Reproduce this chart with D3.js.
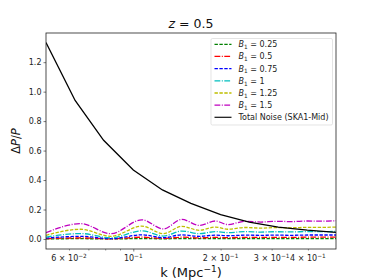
<!DOCTYPE html>
<html><head><meta charset="utf-8">
<script src="https://cdn.jsdelivr.net/npm/d3@7"></script>
<style>
body{margin:0;background:#fff;}
svg{font-family:"DejaVu Sans",sans-serif;}
</style></head>
<body><svg id="c" width="374" height="280"></svg>
<script>
// ---- data ----
const kNoise = [0.05, 0.063, 0.079, 0.1, 0.126, 0.158, 0.2, 0.251, 0.316, 0.398, 0.5];
const noise = [1.333, 0.94, 0.67, 0.468, 0.333, 0.242, 0.165, 0.115, 0.08, 0.06, 0.045];
const kB = [0.05, 0.0659, 0.0837, 0.107, 0.127, 0.147, 0.169, 0.192, 0.2115, 0.2435, 0.275, 0.31, 0.35, 0.4, 0.45, 0.5];
const b025 = [0.0005, 0.002, 0.0003, 0.003, 0.001, 0.003, 0.002, 0.003, 0.002, 0.003, 0.003, 0.003, 0.003, 0.003, 0.003, 0.003];
const b050 = [0.002, 0.007, 0.001, 0.012, 0.004, 0.012, 0.008, 0.011, 0.009, 0.011, 0.011, 0.011, 0.011, 0.012, 0.012, 0.012];
const b075 = [0.006, 0.018, 0.002, 0.028, 0.009, 0.028, 0.018, 0.026, 0.022, 0.026, 0.025, 0.026, 0.025, 0.027, 0.027, 0.027];
const b100 = [0.013, 0.037, 0.008, 0.055, 0.02, 0.054, 0.036, 0.05, 0.043, 0.05, 0.047, 0.049, 0.048, 0.05, 0.05, 0.051];
const b125 = [0.025, 0.066, 0.018, 0.087, 0.036, 0.086, 0.059, 0.081, 0.066, 0.078, 0.074, 0.077, 0.076, 0.079, 0.079, 0.081];
const b150 = [0.043, 0.104, 0.036, 0.13, 0.068, 0.133, 0.092, 0.122, 0.098, 0.12, 0.115, 0.12, 0.118, 0.122, 0.121, 0.124];
const seriesLabels = ["0.25", "0.5", "0.75", "1", "1.25", "1.5"];
const yTicks = [0.0, 0.2, 0.4, 0.6, 0.8, 1.0, 1.2];
const xMajor = [0.1];
const xMinor = [0.06, 0.07, 0.08, 0.09, 0.2, 0.3, 0.4];
const xLabels = [[0.06, "6", "−2"], [0.1, null, "−1"], [0.2, "2", "−1"], [0.3, "3", "−1"], [0.4, "4", "−1"]];

const seriesVals = [b025, b050, b075, b100, b125, b150];
const colors = ["#008000", "#ff0000", "#0000ff", "#00bfbf", "#bfbf00", "#bf00bf"];
const dashed = "3.4,1.5", dashdot = "5.8,1.5,1,1.5";
const styles = [dashed, dashdot, dashed, dashdot, dashed, dashdot];

const svg = d3.select("#c");
const L = 46, R = 336, T = 33, B = 249;
const x = d3.scaleLog().domain([0.05, 0.5]).range([L, R]);
const y = d3.scaleLinear().domain([-0.068, 1.398]).range([B, T]);

svg.append("clipPath").attr("id", "clp").append("rect")
  .attr("x", L).attr("y", T).attr("width", R - L).attr("height", B - T);

const lineSmooth = d3.line().x(d => x(d[0])).y(d => y(d[1])).curve(d3.curveMonotoneX);
const lineLin = d3.line().x(d => x(d[0])).y(d => y(d[1]));

const g = svg.append("g").attr("clip-path", "url(#clp)");
seriesVals.forEach((vals, i) => {
  g.append("path").attr("d", lineSmooth(kB.map((k, j) => [k, vals[j]])))
    .attr("fill", "none").attr("stroke", colors[i]).attr("stroke-width", 1.3)
    .attr("stroke-dasharray", styles[i]);
});
g.append("path").attr("d", lineLin(kNoise.map((k, j) => [k, noise[j]])))
  .attr("fill", "none").attr("stroke", "#000").attr("stroke-width", 1.3);

// axes
const yAxis = d3.axisLeft(y).tickValues(yTicks).tickFormat(d3.format(".1f")).tickSize(2.5).tickPadding(2);
const ya = svg.append("g").attr("transform", `translate(${L},0)`).call(yAxis);
ya.select(".domain").remove();
ya.selectAll("text").attr("font-size", 8).attr("fill", "#222").attr("font-family", "DejaVu Sans");
ya.selectAll("line").attr("stroke", "#222").attr("stroke-width", 0.6);

const xa = svg.append("g").attr("transform", `translate(0,${B})`)
  .call(d3.axisBottom(x).tickValues(xMajor).tickFormat("").tickSize(2.5));
xa.select(".domain").remove();
xa.selectAll("line").attr("stroke", "#222").attr("stroke-width", 0.6);
const xm = svg.append("g").attr("transform", `translate(0,${B})`)
  .call(d3.axisBottom(x).tickValues(xMinor).tickFormat("").tickSize(1.5));
xm.select(".domain").remove();
xm.selectAll("line").attr("stroke", "#222").attr("stroke-width", 0.5);

xLabels.forEach(([v, m, e]) => {
  const t = svg.append("text").attr("x", x(v)).attr("y", 261).attr("text-anchor", "middle")
    .attr("font-size", 8).attr("fill", "#222");
  if (m) t.append("tspan").text(m + " × 10");
  else t.append("tspan").text("10");
  t.append("tspan").attr("dy", -3.5).attr("font-size", 5.8).text(e);
});

// frame
svg.append("rect").attr("x", L).attr("y", T).attr("width", R - L).attr("height", B - T)
  .attr("fill", "none").attr("stroke", "#222").attr("stroke-width", 0.8);

// title
const tt = svg.append("text").attr("x", (L + R) / 2).attr("y", 28).attr("text-anchor", "middle")
  .attr("font-size", 12.5).attr("fill", "#111");
tt.append("tspan").attr("font-style", "italic").text("z");
tt.append("tspan").text(" = 0.5");

// x label
const xl = svg.append("text").attr("x", (L + R) / 2).attr("y", 277).attr("text-anchor", "middle")
  .attr("font-size", 13).attr("fill", "#111");
xl.append("tspan").text("k (Mpc");
xl.append("tspan").attr("dy", -5).attr("font-size", 9).text("−1");
xl.append("tspan").attr("dy", 5).text(")");

// y label
const yl = svg.append("text").attr("transform", `translate(20,${(T + B) / 2}) rotate(-90)`)
  .attr("text-anchor", "middle").attr("font-size", 11.5).attr("fill", "#111");
yl.append("tspan").text("Δ");
yl.append("tspan").attr("font-style", "italic").text("P");
yl.append("tspan").text("/");
yl.append("tspan").attr("font-style", "italic").text("P");

// legend
const lg = svg.append("g");
lg.append("rect").attr("x", 211).attr("y", 38.5).attr("width", 121.5).attr("height", 86.5)
  .attr("rx", 1.5).attr("fill", "#fff").attr("fill-opacity", 0.8).attr("stroke", "#d8d8d8").attr("stroke-width", 0.7);
const rowY = i => 44.3 + i * 12.17;
seriesLabels.forEach((lab, i) => {
  lg.append("line").attr("x1", 214.5).attr("x2", 231.5).attr("y1", rowY(i)).attr("y2", rowY(i))
    .attr("stroke", colors[i]).attr("stroke-width", 1.3).attr("stroke-dasharray", styles[i]);
  const t = lg.append("text").attr("x", 238.5).attr("y", rowY(i) + 2.9).attr("font-size", 8).attr("fill", "#222");
  t.append("tspan").attr("font-style", "italic").text("B");
  t.append("tspan").attr("dy", 1.8).attr("font-size", 5.8).text("1");
  t.append("tspan").attr("dy", -1.8).text(" = " + lab);
});
lg.append("line").attr("x1", 214.5).attr("x2", 231.5).attr("y1", rowY(6)).attr("y2", rowY(6))
  .attr("stroke", "#222").attr("stroke-width", 1.3);
lg.append("text").attr("x", 238.5).attr("y", rowY(6) + 2.9).attr("font-size", 8).attr("fill", "#222")
  .text("Total Noise (SKA1-Mid)");
</script></body></html>
